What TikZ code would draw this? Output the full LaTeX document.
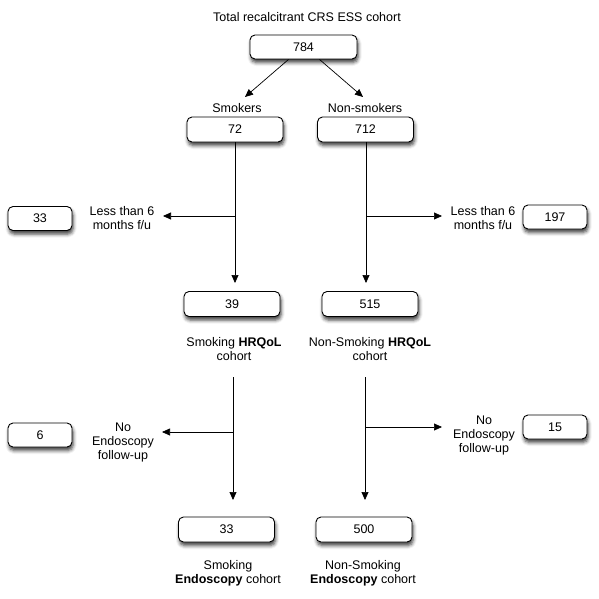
\documentclass[tikz,border=0pt]{standalone}
\usepackage{fontspec}
\setmainfont{Liberation Sans}
\usetikzlibrary{arrows.meta,shadows.blur}
\begin{document}
\begin{tikzpicture}[x=1pt,y=-1pt,
  box/.style={draw, rounded corners=5pt, fill=white, minimum width=96pt, minimum height=25pt, inner sep=0pt, line width=0.9pt,
    blur shadow={shadow xshift=1pt, shadow yshift=-3.5pt, shadow blur radius=3.5pt, shadow opacity=75}},
  sbox/.style={box, minimum width=64pt, minimum height=24pt},
  lab/.style={align=center, inner sep=0pt},
  arr/.style={-{Triangle[length=8pt,width=7pt]}, line width=0.7pt},
  every node/.style={font=\fontsize{12.5}{14}\selectfont}]
\useasboundingbox (0,0) rectangle (598,599);

% top
\node[lab] (title) at (307,17) {Total recalcitrant CRS ESS cohort};
\node[box, minimum width=107pt, minimum height=24pt] (b784) at (303.5,47) {784};
\node[lab] (lSm) at (237,108) {Smokers};
\node[lab] (lNs) at (365,108) {Non-smokers};
\node[box] (b72) at (235,129.5) {72};
\node[box] (b712) at (365.5,129.5) {712};
\coordinate (eSm) at (245,97);
\coordinate (eNs) at (363,97);
\draw[arr] ([xshift=-15pt]b784.south) -- (eSm);
\draw[arr] ([xshift=16pt]b784.south) -- (eNs);

% stage 1
\node[sbox] (b33a) at (40,218.5) {33};
\node[lab] (lL1) at (122,218) {Less than 6\\months f/u};
\node[sbox] (b197) at (555,217) {197};
\node[lab] (lR1) at (483,218) {Less than 6\\months f/u};
\node[box] (b39) at (232,304) {39};
\node[box] (b515) at (370,304) {515};
\node[lab] (lSmH) at (234,349) {Smoking \textbf{HRQoL}\\cohort};
\node[lab] (lNsH) at (370,349) {Non-Smoking \textbf{HRQoL}\\cohort};

\coordinate (s1) at (235,142);
\coordinate (j1) at (235,216);
\coordinate (e1) at (235,283);
\coordinate (h1) at (163,216);
\draw[arr] (s1) -- (e1);
\draw[arr] (j1) -- (h1);

\coordinate (s2) at (366,142);
\coordinate (j2) at (366,216);
\coordinate (e2) at (366,283);
\coordinate (h2) at (442,216);
\draw[arr] (s2) -- (e2);
\draw[arr] (j2) -- (h2);

% stage 2
\node[sbox] (b6) at (40,435) {6};
\node[lab] (lL2) at (123,442) {No\\Endoscopy\\follow-up};
\node[sbox] (b15) at (555,427) {15};
\node[lab] (lR2) at (484,435) {No\\Endoscopy\\follow-up};
\node[box] (b33) at (226.5,529.5) {33};
\node[box] (b500) at (364,529.5) {500};
\node[lab] (lSmE) at (228,573) {Smoking\\\textbf{Endoscopy} cohort};
\node[lab] (lNsE) at (363,573) {Non-Smoking\\\textbf{Endoscopy} cohort};

\coordinate (s3) at (233,377);
\coordinate (j3) at (233,432);
\coordinate (e3) at (233,500);
\coordinate (h3) at (162,432);
\draw[arr] (s3) -- (e3);
\draw[arr] (j3) -- (h3);

\coordinate (s4) at (365,377);
\coordinate (j4) at (365,427);
\coordinate (e4) at (365,500);
\coordinate (h4) at (442,427);
\draw[arr] (s4) -- (e4);
\draw[arr] (j4) -- (h4);
\end{tikzpicture}
\end{document}
